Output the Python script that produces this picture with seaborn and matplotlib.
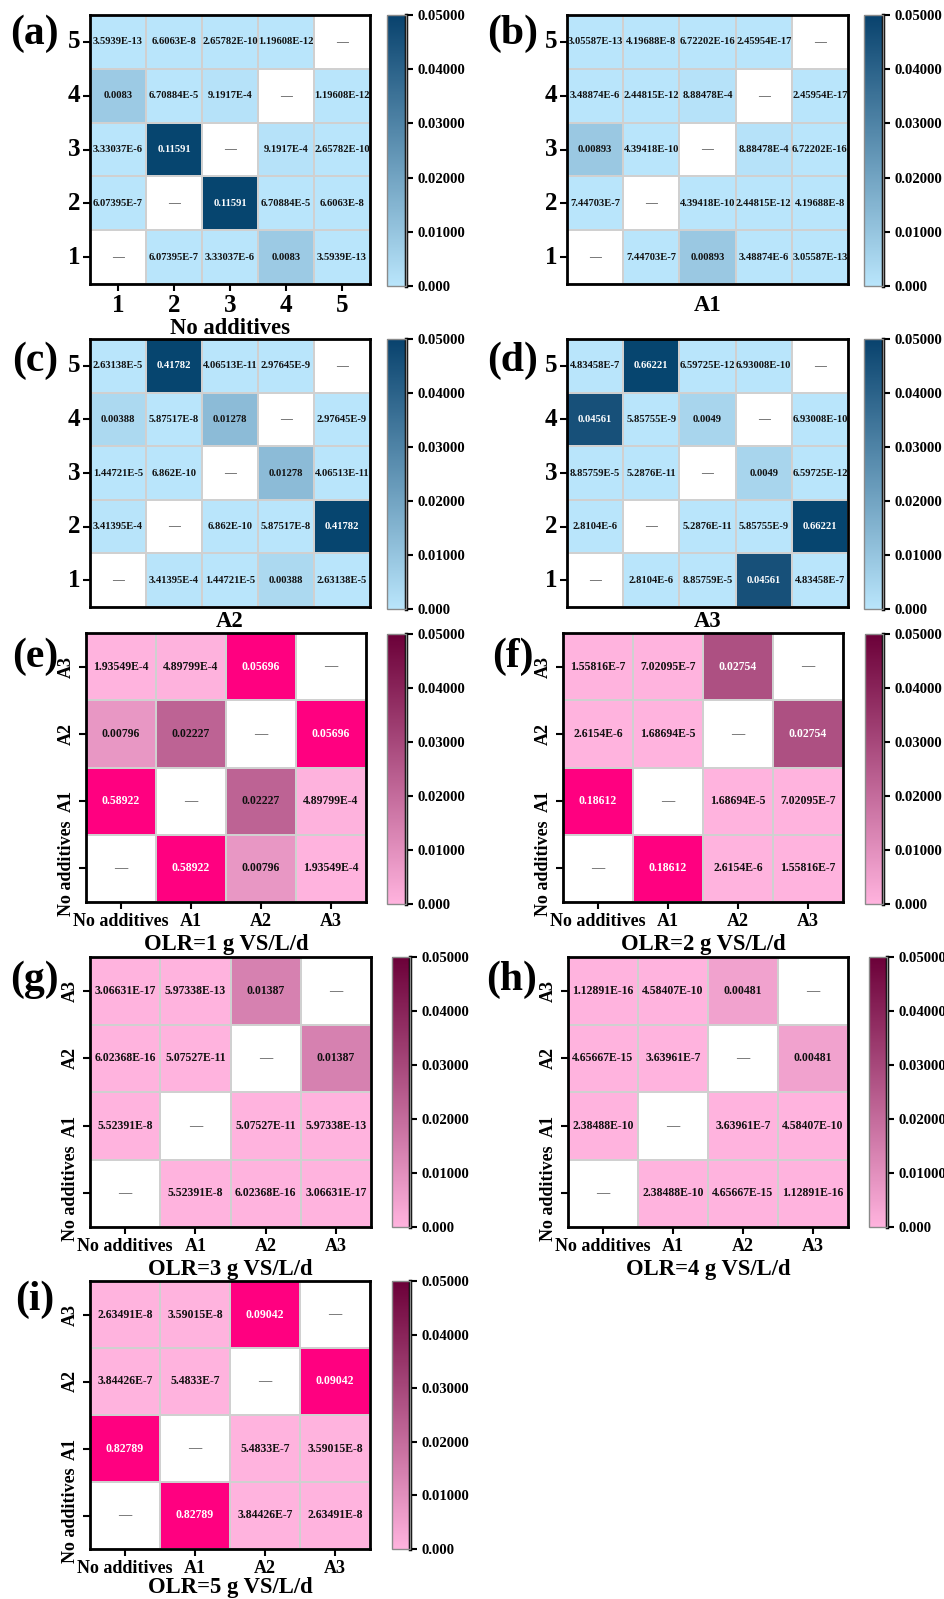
import numpy as np
import pandas as pd
import matplotlib
matplotlib.use('Agg')
import matplotlib.pyplot as plt
import seaborn as sns
from matplotlib.colors import LinearSegmentedColormap

plt.rcParams['font.family'] = ['Liberation Serif', 'DejaVu Serif']
plt.rcParams['font.weight'] = 'bold'
plt.rcParams['axes.labelweight'] = 'bold'

# groups compared
groups_num = ['1', '2', '3', '4', '5']
groups_add = ['No additives', 'A1', 'A2', 'A3']

# pairwise p-values, upper triangle order (1,2),(1,3),...,(n-1,n)
p_no_additives = [6.07395e-7, 3.33037e-6, 0.0083, 3.5939e-13,
                  0.11591, 6.70884e-5, 6.6063e-8,
                  9.1917e-4, 2.65782e-10,
                  1.19608e-12]
p_a1 = [7.44703e-7, 0.00893, 3.48874e-6, 3.05587e-13,
        4.39418e-10, 2.44815e-12, 4.19688e-8,
        8.88478e-4, 6.72202e-16,
        2.45954e-17]
p_a2 = [3.41395e-4, 1.44721e-5, 0.00388, 2.63138e-5,
        6.862e-10, 5.87517e-8, 0.41782,
        0.01278, 4.06513e-11,
        2.97645e-9]
p_a3 = [2.8104e-6, 8.85759e-5, 0.04561, 4.83458e-7,
        5.2876e-11, 5.85755e-9, 0.66221,
        0.0049, 6.59725e-12,
        6.93008e-10]
p_olr1 = [0.58922, 0.00796, 1.93549e-4, 0.02227, 4.89799e-4, 0.05696]
p_olr2 = [0.18612, 2.6154e-6, 1.55816e-7, 1.68694e-5, 7.02095e-7, 0.02754]
p_olr3 = [5.52391e-8, 6.02368e-16, 3.06631e-17, 5.07527e-11, 5.97338e-13, 0.01387]
p_olr4 = [2.38488e-10, 4.65667e-15, 1.12891e-16, 3.63961e-7, 4.58407e-10, 0.00481]
p_olr5 = [0.82789, 3.84426e-7, 2.63491e-8, 5.4833e-7, 3.59015e-8, 0.09042]

cbar_ticks = [0, 0.01, 0.02, 0.03, 0.04, 0.05]

blue = LinearSegmentedColormap.from_list('blue', ['#B9E5FB', '#08426D'])
blue.set_over('#06456F')
blue.set_bad('white')
pink = LinearSegmentedColormap.from_list('pink', ['#FFB3DE', '#6B0038'])
pink.set_over('#FF0080')
pink.set_bad('white')

W, H = 944, 1599
fig = plt.figure(figsize=(W / 100, H / 100), dpi=100)


def box(x0, y0, x1, y1):
    return [x0 / W, 1 - y1 / H, (x1 - x0) / W, (y1 - y0) / H]


def fmt(v):
    if v >= 1e-3:
        return f'{v:g}'
    m, e = f'{v:.5E}'.split('E')
    m = m.rstrip('0').rstrip('.')
    return f'{m}E{int(e)}'


def to_frame(pvals, groups):
    n = len(groups)
    mat = np.full((n, n), np.nan)
    iu = np.triu_indices(n, 1)
    mat[iu] = pvals
    mat[(iu[1], iu[0])] = pvals
    return pd.DataFrame(mat, index=groups, columns=groups).iloc[::-1]


panels = [
    dict(letter='(a)', p=p_no_additives, g=groups_num, cmap=blue, xlabel='No additives', xt=True,
         ax=(90, 15, 370, 284), cb=(387, 15, 406, 286), lp=(10, 34), pad=1),
    dict(letter='(b)', p=p_a1, g=groups_num, cmap=blue, xlabel='A1', xt=False,
         ax=(567, 15, 848, 284), cb=(864, 15, 883, 286), lp=(487, 34), pad=8),
    dict(letter='(c)', p=p_a2, g=groups_num, cmap=blue, xlabel='A2', xt=False,
         ax=(90, 339, 370, 607), cb=(387, 339, 406, 609), lp=(12, 361), pad=3),
    dict(letter='(d)', p=p_a3, g=groups_num, cmap=blue, xlabel='A3', xt=False,
         ax=(567, 339, 848, 607), cb=(864, 339, 883, 609), lp=(487, 361), pad=3),
    dict(letter='(e)', p=p_olr1, g=groups_add, cmap=pink, xlabel='OLR=1 g VS/L/d', xt=True,
         ax=(86, 633, 366, 902), cb=(387, 634, 406, 904), lp=(12, 657), pad=3),
    dict(letter='(f)', p=p_olr2, g=groups_add, cmap=pink, xlabel='OLR=2 g VS/L/d', xt=True,
         ax=(563, 633, 843, 902), cb=(865, 634, 883, 904), lp=(492, 657), pad=3),
    dict(letter='(g)', p=p_olr3, g=groups_add, cmap=pink, xlabel='OLR=3 g VS/L/d', xt=True,
         ax=(90, 957, 371, 1227), cb=(392, 957, 410, 1227), lp=(10, 980), pad=3),
    dict(letter='(h)', p=p_olr4, g=groups_add, cmap=pink, xlabel='OLR=4 g VS/L/d', xt=True,
         ax=(568, 957, 848, 1227), cb=(869, 957, 887, 1227), lp=(486, 980), pad=3),
    dict(letter='(i)', p=p_olr5, g=groups_add, cmap=pink, xlabel='OLR=5 g VS/L/d', xt=True,
         ax=(90, 1281, 370, 1549), cb=(392, 1281, 410, 1549), lp=(15, 1300), pad=0),
]

for pn in panels:
    df = to_frame(pn['p'], pn['g'])
    n = len(pn['g'])
    is_blue = pn['cmap'] is blue
    ax = fig.add_axes(box(*pn['ax']))
    cax = fig.add_axes(box(*pn['cb']))
    sns.heatmap(df, ax=ax, cbar_ax=cax, cmap=pn['cmap'], vmin=0, vmax=0.05,
                mask=df.isna(), linewidths=1.2, linecolor='#d0d0d0',
                cbar_kws={'ticks': cbar_ticks})

    # cell labels
    fs = 7.6 if is_blue else 8.5
    for r in range(n):
        for c in range(n):
            v = df.iat[r, c]
            if np.isnan(v):
                ax.text(c + 0.5, r + 0.5, '—', ha='center', va='center',
                        fontsize=fs + 1, color='#333333', fontweight='normal')
            else:
                col = 'white' if v >= 0.025 else '#111111'
                ax.text(c + 0.5, r + 0.5, fmt(v), ha='center', va='center',
                        fontsize=fs, color=col, fontweight='bold')

    for s in ax.spines.values():
        s.set_visible(True)
        s.set_linewidth(2)
        s.set_color('black')

    tick_fs = 18 if is_blue else 13
    ax.tick_params(axis='both', length=5, width=1.5, direction='out',
                   pad=(2 if is_blue else 3),
                   left=True, bottom=pn['xt'], labelbottom=pn['xt'])
    ax.set_yticklabels(list(df.index), rotation=0 if is_blue else 90,
                       va='center', fontsize=tick_fs, fontweight='bold')
    if pn['xt']:
        ax.set_xticklabels(list(df.columns), rotation=0, fontsize=tick_fs, fontweight='bold')
    ax.set_ylabel('')
    ax.set_xlabel(pn['xlabel'], fontsize=16.3, fontweight='bold', labelpad=pn['pad'])

    # colorbar: thin grey frame, heavy black right edge carrying the ticks
    cbar = ax.collections[0].colorbar
    cbar.outline.set_linewidth(1)
    cbar.outline.set_edgecolor('#8a8a8a')
    cax.plot([1, 1], [0, 1], transform=cax.transAxes, color='black', lw=2.5,
             clip_on=False, solid_capstyle='projecting')
    cax.tick_params(length=5, width=1.5, pad=3)
    cax.set_yticklabels(['0.000'] + [f'{t:.5f}' for t in cbar_ticks[1:]],
                        fontsize=10.6, fontweight='bold')

    fig.text(pn['lp'][0] / W, 1 - pn['lp'][1] / H, pn['letter'], fontsize=30,
             fontweight='bold', ha='left', va='center')

fig.savefig('out.png', dpi=100)
